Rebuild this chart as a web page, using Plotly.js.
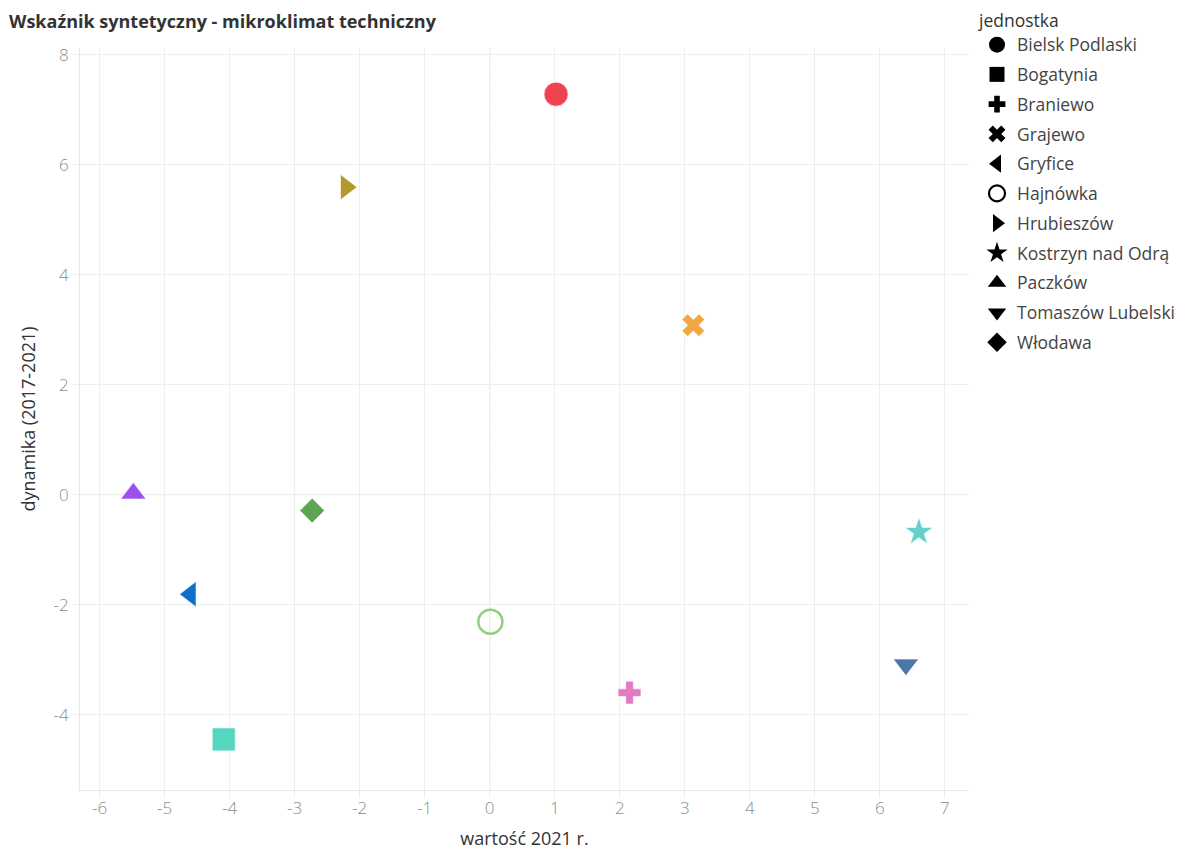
<!DOCTYPE html>
<html>
<head>
<meta charset="utf-8">
<script src="https://cdn.plot.ly/plotly-3.0.1.min.js"></script>
<style>
  html, body { margin: 0; padding: 0; background: #fff; }
  #chart { width: 1178px; height: 850px; }
</style>
</head>
<body>
<div id="chart"></div>
<script>
// ---- data ----
const names = ['Bielsk Podlaski','Bogatynia','Braniewo','Grajewo','Gryfice','Hajnówka','Hrubieszów','Kostrzyn nad Odrą','Paczków','Tomaszów Lubelski','Włodawa'];
const xValues = [1.02, -4.09, 2.15, 3.13, -4.60, 0.01, -2.21, 6.60, -5.48, 6.40, -2.73];
const yValues = [7.28, -4.45, -3.60, 3.08, -1.81, -2.31, 5.59, -0.68, 0.02, -3.09, -0.29];
const xTicks = [-6,-5,-4,-3,-2,-1,0,1,2,3,4,5,6,7];
const yTicks = [-4,-2,0,2,4,6,8];

// ---- styles ----
const symbols = ['circle','square','cross','x','triangle-left','circle-open','triangle-right','star','triangle-up','triangle-down','diamond'];
const colors  = ['#EE444F','#55D6BE','#E37AC4','#F3A646','#0F6FCC','#8CD17D','#B4982D','#64CFCD','#9B51F0','#4C78A8','#5DA553'];
const sizes   = [24, 23, 19, 20, 22, 24, 22, 21, 22, 22, 19];
const legendSizes = [16, 15, 14, 15, 16, 16, 16, 16, 16, 16, 15];

const fontFam = '"Open Sans", "Noto Sans", sans-serif';
const traces = [];
names.forEach((n, i) => {
  const open = symbols[i].indexOf('open') >= 0;
  traces.push({
    type: 'scatter', mode: 'markers', name: n, legendgroup: n, showlegend: false,
    x: [xValues[i]], y: [yValues[i]],
    marker: {
      symbol: symbols[i], size: sizes[i], color: colors[i], opacity: 1,
      line: open ? {color: colors[i], width: 2.5} : {color: '#ffffff', width: 0.6}
    },
    hovertemplate: n + '<br>wartość 2021 r.: %{x}<br>dynamika: %{y}<extra></extra>'
  });
  traces.push({
    type: 'scatter', mode: 'markers', name: n, legendgroup: n, showlegend: true,
    x: [null], y: [null],
    marker: {
      symbol: symbols[i], size: legendSizes[i], color: '#000000',
      line: open ? {color: '#000000', width: 2.2} : {width: 0}
    }
  });
});

const gridColor = '#eeeeee';
const layout = {
  width: 1178, height: 850,
  paper_bgcolor: '#ffffff', plot_bgcolor: '#ffffff',
  margin: {l: 80, r: 209, t: 48, b: 60, autoexpand: false},
  font: {family: fontFam, color: '#333333'},
  title: {
    text: '<b>Wskaźnik syntetyczny - mikroklimat techniczny</b>',
    x: 9/1178, xref: 'container', xanchor: 'left',
    y: 1 - 22/850, yref: 'container', yanchor: 'middle',
    font: {family: fontFam, size: 18, color: '#333333'}
  },
  xaxis: {
    range: [-6.3, 7.37], tickvals: xTicks, ticktext: xTicks.map(String),
    showgrid: true, gridcolor: gridColor, gridwidth: 1.2, zeroline: false,
    showline: true, linecolor: '#e8e8e8', linewidth: 1,
    ticks: 'outside', ticklen: 7, tickcolor: gridColor, tickwidth: 1.2,
    ticklabelstandoff: -4,
    tickfont: {family: fontFam, size: 17, color: '#8c8c8c', weight: 300},
    title: {text: 'wartość 2021 r.', standoff: 14, font: {family: fontFam, size: 18, color: '#333333'}}
  },
  yaxis: {
    range: [-5.37, 8.12], tickvals: yTicks, ticktext: yTicks.map(String),
    showgrid: true, gridcolor: gridColor, gridwidth: 1.2, zeroline: false,
    showline: true, linecolor: '#e8e8e8', linewidth: 1,
    ticks: 'outside', ticklen: 7, tickcolor: gridColor, tickwidth: 1.2,
    tickfont: {family: fontFam, size: 17, color: '#8c8c8c', weight: 300},
    title: {text: 'dynamika (2017-2021)', standoff: 13, font: {family: fontFam, size: 18, color: '#333333'}}
  },
  shapes: [
    {type: 'line', xref: 'x', yref: 'paper', x0: 0, x1: 0, y0: 0, y1: 1,
     line: {color: '#bfbfbf', width: 1, dash: '3px,2px'}, layer: 'below'},
    {type: 'line', xref: 'paper', yref: 'y', x0: 0, x1: 1, y0: 0, y1: 0,
     line: {color: '#bfbfbf', width: 1, dash: '3px,2px'}, layer: 'below'}
  ],
  legend: {
    xref: 'container', x: 977/1178, xanchor: 'left',
    yref: 'container', y: 1 - 4/850, yanchor: 'top',
    traceorder: 'grouped', tracegroupgap: 4, itemsizing: 'trace',
    title: {text: 'jednostka', font: {family: fontFam, size: 17.5, color: '#333333'}},
    font: {family: fontFam, size: 17.5, color: '#444444'},
    bgcolor: 'rgba(0,0,0,0)', borderwidth: 0
  },
  showlegend: true
};

Plotly.newPlot('chart', traces, layout, {displayModeBar: false, staticPlot: false});
</script>
</body>
</html>
